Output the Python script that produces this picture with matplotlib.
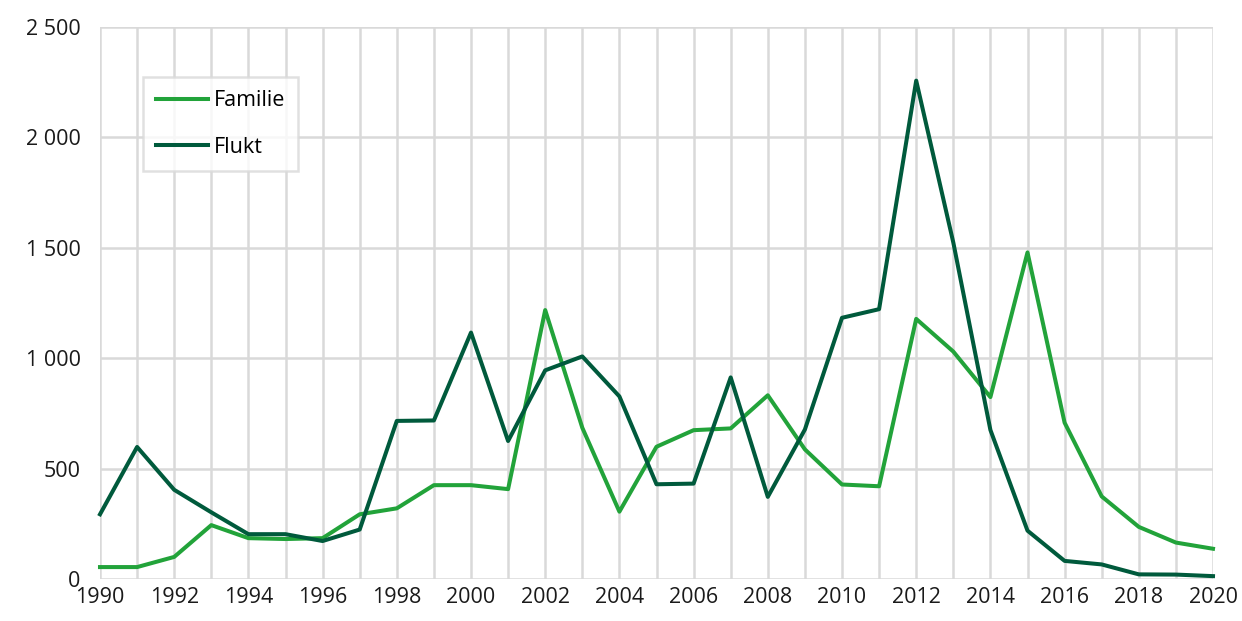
import numpy as np
import matplotlib.pyplot as plt
from matplotlib.ticker import FuncFormatter

years = list(range(1990, 2021))
familie = [54, 54, 100, 244, 185, 181, 185, 293, 320, 425, 425, 407, 1218, 685, 305,
           599, 674, 682, 832, 587, 428, 420, 1178, 1030, 824, 1479, 708, 374, 236, 165, 137]
flukt = [293, 598, 404, 302, 203, 203, 172, 224, 716, 718, 1116, 625, 945, 1008, 827,
         429, 432, 913, 372, 677, 1183, 1222, 2257, 1524, 675, 219, 82, 66, 21, 20, 13]

plt.rcParams['font.family'] = ['Open Sans', 'DejaVu Sans']

fig = plt.figure(figsize=(12.42, 6.21), dpi=100)
ax = fig.add_axes([100/1242, 1 - 579/621, 1113/1242, 552/621])

ax.plot(years, familie, color='#22a33a', lw=2.9, label='Familie', clip_on=False, zorder=3)
ax.plot(years, flukt, color='#005a3c', lw=2.9, label='Flukt', clip_on=False, zorder=3)

ax.set_xlim(1990, 2020)
ax.set_ylim(0, 2500)
ax.set_xticks(range(1990, 2021, 2))
ax.set_xticks(range(1990, 2021), minor=True)
ax.set_yticks(range(0, 2501, 500))
ax.yaxis.set_major_formatter(FuncFormatter(lambda v, p: f'{int(v):,}'.replace(',', ' ')))

ax.grid(True, which='both', axis='x', color='#d9d9d9', lw=1.8)
ax.grid(True, which='major', axis='y', color='#d9d9d9', lw=1.8)
ax.set_axisbelow(True)
for s in ax.spines.values():
    s.set_visible(False)
ax.tick_params(which='both', length=0, labelsize=15.5, colors='#1a1a1a')
ax.tick_params(axis='y', pad=14)
ax.tick_params(axis='x', pad=6)

leg = ax.legend(loc='upper left', bbox_to_anchor=(0.0386, 0.909), fontsize=15.5,
                frameon=True, fancybox=False, edgecolor='#d9d9d9', borderpad=0.6,
                labelspacing=1.2, handlelength=2.4, handletextpad=0.3, borderaxespad=0)
leg.get_frame().set_linewidth(1.8)

fig.savefig('out.png', dpi=100)
